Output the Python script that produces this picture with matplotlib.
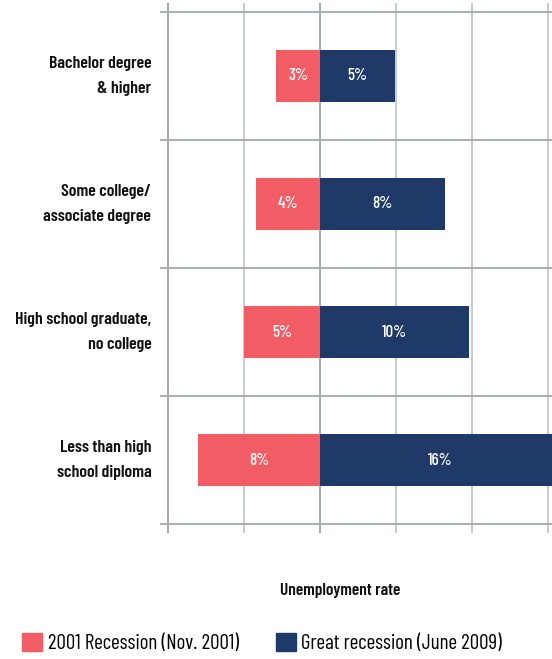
import matplotlib.pyplot as plt
from matplotlib.patches import Patch

# ============================================================
# DATA
# ============================================================
categories = ["Bachelor degree\n& higher",
              "Some college/\nassociate degree",
              "High school graduate,\nno college",
              "Less than high\nschool diploma"]
rate_2001 = [2.9, 4.2, 5.0, 8.0]      # Nov. 2001
rate_2009 = [4.9, 8.2, 9.8, 15.8]     # June 2009
series_names = ["2001 Recession (Nov. 2001)", "Great recession (June 2009)"]
grid_ticks = [-10, -5, 0, 5, 10, 15]

RED = "#F25C64"
NAVY = "#1F3A69"
plt.rcParams["font.family"] = ["Barlow Condensed", "DejaVu Sans"]

# ============================================================
# PLOT
# ============================================================
fig = plt.figure(figsize=(5.52, 6.59), dpi=100)
ax = fig.add_axes([160 / 552, 1 - 533 / 659, 392 / 552, 530 / 659])

y = list(range(len(categories)))
ax.barh(y, [-v for v in rate_2001], height=0.41, color=RED, zorder=3)
ax.barh(y, rate_2009, height=0.41, color=NAVY, zorder=3)

for i in y:
    ax.text(-rate_2001[i] / 2, i, f"{rate_2001[i]:.0f}%", color="white",
            ha="center", va="center", fontsize=12.2, fontweight=500, zorder=4)
    ax.text(rate_2009[i] / 2, i, f"{rate_2009[i]:.0f}%", color="white",
            ha="center", va="center", fontsize=12.2, fontweight=500, zorder=4)

# grid lines
for t in grid_ticks:
    c = "#9DA2A6" if t in (-10, 0) else "#C3C8CC"
    ax.axvline(t, color=c, lw=1.3, zorder=1)
for b in [-0.5, 0.5, 1.5, 2.5, 3.5]:
    ax.axhline(b, color="#A3A8AC", lw=1.3, zorder=2)

ax.set_xlim(-10.53, 15.26)
ax.set_ylim(3.57, -0.57)
ax.set_xticks([])
ax.set_yticks([])
for s in ax.spines.values():
    s.set_visible(False)

# category labels
for i, cat in enumerate(categories):
    ax.text(-11.1, i, cat, ha="right", va="center", fontsize=12.8,
            fontweight=600, linespacing=1.85, color="#111111")

fig.text(340 / 552, 1 - 590 / 659, "Unemployment rate", ha="center",
         va="center", fontsize=12.5, fontweight=600, color="#111111")

handles = [Patch(color=RED), Patch(color=NAVY)]
fig.legend(handles, series_names, loc="center", bbox_to_anchor=(262 / 552, 1 - 643 / 659),
           ncol=2, frameon=False, fontsize=15.2, handlelength=0.95, handleheight=0.95,
           handletextpad=0.25, columnspacing=1.75)

plt.savefig("out.png", dpi=100)
